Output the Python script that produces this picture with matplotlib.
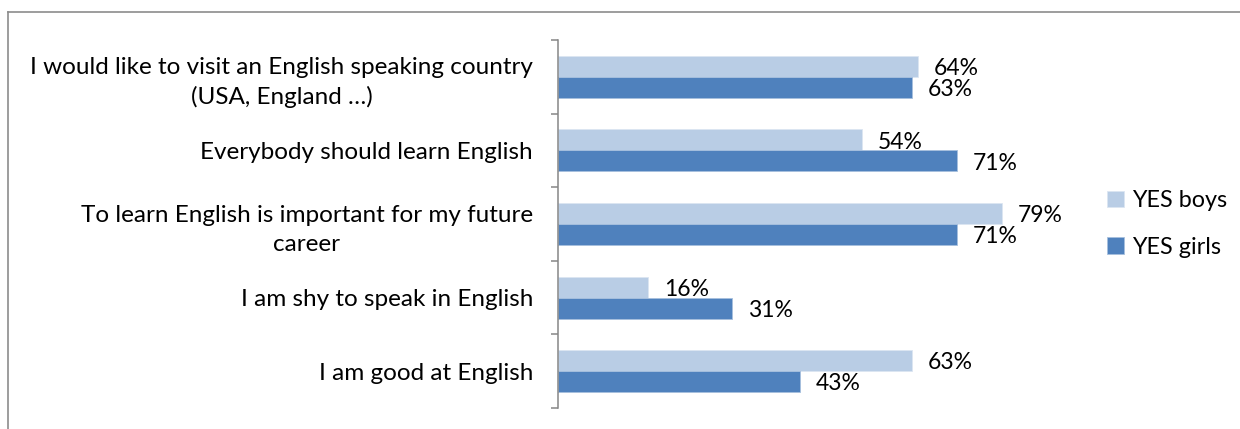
import numpy as np
import matplotlib.pyplot as plt
from matplotlib.lines import Line2D
from matplotlib.ticker import FixedLocator

plt.rcParams['font.family'] = ['Lato', 'DejaVu Sans']

# Survey answers
questions = [
    'I would like to visit an English speaking country\n(USA, England \u2026)',
    'Everybody should learn English',
    'To learn English is important for my future\ncareer',
    'I am shy to speak in English',
    'I am good at English',
]
yes_boys = [64, 54, 79, 16, 63]
yes_girls = [63, 71, 71, 31, 43]

boys_color = '#B9CDE5'
girls_color = '#4F81BD'
grey = '#868686'
fs = 17.5
fs_val = 16.5

fig = plt.figure(figsize=(12.4, 4.29), dpi=100)
ax = fig.add_axes([558 / 1240, 1 - 408 / 429, 506 / 1240, 368 / 429])

y = np.arange(len(questions))
h = 0.285
ax.barh(y - h / 2, yes_boys, height=h, color=boys_color, edgecolor='#dce6f2', linewidth=0.6, label='YES boys')
ax.barh(y + h / 2, yes_girls, height=h, color=girls_color, edgecolor='#a7c0de', linewidth=0.6, label='YES girls')

for i in range(len(questions)):
    ax.text(yes_boys[i] + 2.8, y[i] - h / 2 + 0.03, f'{yes_boys[i]}%', va='center', ha='left', fontsize=fs_val)
    ax.text(yes_girls[i] + 2.8, y[i] + h / 2 + 0.03, f'{yes_girls[i]}%', va='center', ha='left', fontsize=fs_val)

ax.set_xlim(0, 90)
ax.set_ylim(len(questions) - 0.5, -0.5)
ax.set_yticks(y)
ax.set_yticklabels(questions, fontsize=fs, multialignment='center', linespacing=1.45)
ax.yaxis.set_minor_locator(FixedLocator(np.arange(-0.5, len(questions), 1)))
ax.tick_params(axis='y', which='major', length=0, pad=18)
ax.tick_params(axis='y', which='minor', length=5, width=1.1, color=grey)
ax.set_xticks([])
for s in ['top', 'right', 'bottom']:
    ax.spines[s].set_visible(False)
ax.spines['left'].set_color(grey)
ax.spines['left'].set_linewidth(1.1)

leg = ax.legend(loc='center left', bbox_to_anchor=(1086 / 1240, 1 - 224 / 429),
                bbox_transform=fig.transFigure, frameon=False, fontsize=16.8,
                handlelength=0.72, handleheight=0.72, handletextpad=0.35, labelspacing=1.1)

# outer chart frame
bx = 7.5 / 1240
by = 1 - 11.5 / 429
fig.add_artist(Line2D([bx, bx], [0, by], transform=fig.transFigure, color='#8c8c8c', lw=1.2))
fig.add_artist(Line2D([bx, 1], [by, by], transform=fig.transFigure, color='#8c8c8c', lw=1.2))

fig.savefig('out.png', dpi=100)
